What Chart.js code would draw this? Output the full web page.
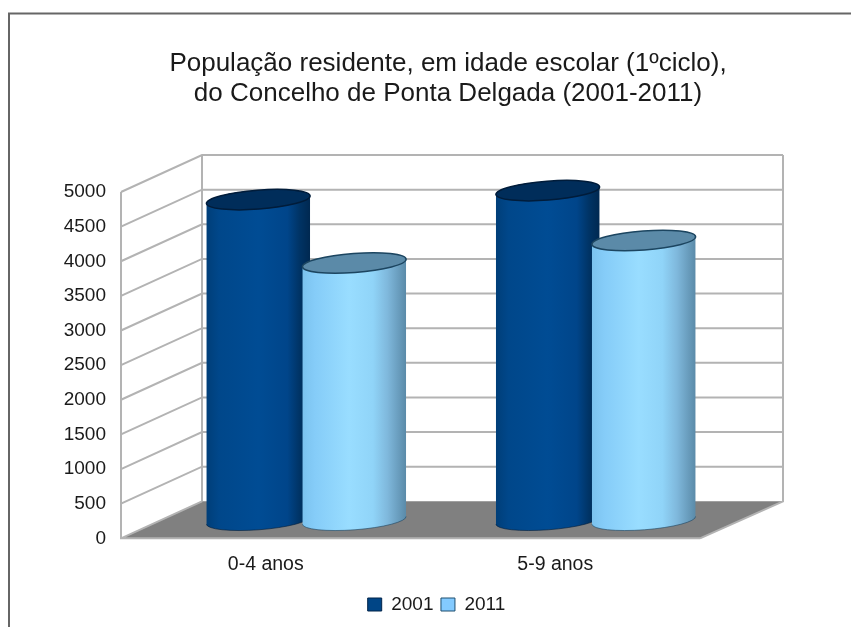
<!DOCTYPE html>
<html>
<head>
<meta charset="utf-8">
<title>População residente</title>
<script src="https://cdn.jsdelivr.net/npm/chart.js@4/dist/chart.umd.js"></script>
<style>
html, body { margin: 0; padding: 0; background: #fff; }
#wrap { width: 851px; height: 627px; }
</style>
</head>
<body>
<div id="wrap"><canvas id="grafico"></canvas></div>
<script>
const categorias = ['0-4 anos', '5-9 anos'];
const valores2001 = [4630, 4760];
const valores2011 = [3715, 4040];
const ticksY = [0, 500, 1000, 1500, 2000, 2500, 3000, 3500, 4000, 4500, 5000];
const titulo = ['População residente, em idade escolar (1ºciclo),', 'do Concelho de Ponta Delgada (2001-2011)'];

// profundidade do "3D"
const fundoX = 81, fundoY = 37;
const barraX = 40.5, barraY = 18;
const passo = 48, raioX = 52, raioY = 9.5, inclinacao = -0.075;

const bandas = [
    [[0, '#003e78'], [0.12, '#00478a'], [0.5, '#004c94'], [0.78, '#00458a'], [0.9, '#003364'], [1, '#002850']],
    [[0, '#7bc2ee'], [0.12, '#85ccf8'], [0.45, '#99ddff'], [0.68, '#90d4f8'], [0.82, '#7fb8dc'], [1, '#5a8aa8']]
];
const tampas = [['#002d5a', '#001c3a'], ['#5b8aa8', '#1c4560']];

// paredes, grelha e chao
const paredes = {
    id: 'paredes',
    afterLayout(chart) {
        // o titulo esta um pouco a direita da legenda
        chart.titleBlock.left += 23;
    },
    beforeDraw(chart) {
        const c = chart.ctx, a = chart.chartArea, y = chart.scales.y;
        c.save();
        // moldura: so topo e esquerda
        c.strokeStyle = '#666';
        c.lineWidth = 2;
        c.beginPath();
        c.moveTo(9, 627);
        c.lineTo(9, 13.5);
        c.lineTo(851, 13.5);
        c.stroke();

        c.fillStyle = '#808080';
        c.beginPath();
        c.moveTo(a.left, a.bottom);
        c.lineTo(a.left + fundoX, a.bottom - fundoY);
        c.lineTo(a.right + fundoX + 2, a.bottom - fundoY);
        c.lineTo(a.right, a.bottom);
        c.closePath();
        c.fill();

        c.strokeStyle = '#b3b3b3';
        c.beginPath();
        ticksY.forEach(function (v) {
            const py = y.getPixelForValue(v);
            if (v > 0) {
                c.moveTo(a.left, py);
                c.lineTo(a.left + fundoX, py - fundoY);
                c.lineTo(a.right + fundoX + 2, py - fundoY);
            }
        });
        c.moveTo(a.left, a.top);
        c.lineTo(a.left, a.bottom);
        c.lineTo(a.right, a.bottom);
        c.moveTo(a.left, a.bottom);
        c.lineTo(a.left + fundoX, a.bottom - fundoY);
        c.moveTo(a.left + fundoX, a.top - fundoY);
        c.lineTo(a.left + fundoX, a.bottom - fundoY);
        c.moveTo(a.right + fundoX + 2, a.top - fundoY);
        c.lineTo(a.right + fundoX + 2, a.bottom - fundoY);
        c.lineTo(a.right, a.bottom);
        c.stroke();
        c.restore();
    }
};

function contorno(c, el) {
    c.moveTo(el.cx - raioX * Math.cos(inclinacao), el.topo - raioX * Math.sin(inclinacao));
    c.ellipse(el.cx, el.topo, raioX, raioY, inclinacao, Math.PI, 0);
    c.ellipse(el.cx, el.fim, raioX, raioY, inclinacao, 0, Math.PI);
    c.closePath();
}

// cilindros: as barras da biblioteca sao recortadas e levam as tampas
const cilindros = {
    id: 'cilindros',
    afterDatasetsUpdate(chart) {
        const c = chart.ctx, x = chart.scales.x, y = chart.scales.y;
        chart.data.datasets.forEach(function (ds, d) {
            chart.getDatasetMeta(d).data.forEach(function (el, i) {
                el.cx = x.getPixelForValue(i) + barraX + (d === 0 ? -passo : passo);
                el.topo = y.getPixelForValue(ds.data[i]) - barraY;
                el.fim = y.getPixelForValue(0) - barraY;
                el.x = el.cx;
                el.width = raioX * 2;
                el.y = el.topo - raioY - 4;
                el.base = el.fim + raioY + 4;
                const g = c.createLinearGradient(el.cx - raioX, 0, el.cx + raioX, 0);
                bandas[d].forEach(function (b) { g.addColorStop(b[0], b[1]); });
                el.options = Object.assign({}, el.options, { backgroundColor: g });
            });
        });
    },
    beforeDatasetDraw(chart, args) {
        const c = chart.ctx;
        c.save();
        c.beginPath();
        args.meta.data.forEach(function (el) { contorno(c, el); });
        c.clip();
    },
    afterDatasetDraw(chart, args) {
        const c = chart.ctx, cor = tampas[args.index];
        c.restore();
        args.meta.data.forEach(function (el) {
            c.save();
            c.fillStyle = cor[0];
            c.strokeStyle = cor[1];
            c.lineWidth = 1.5;
            c.beginPath();
            c.ellipse(el.cx, el.topo, raioX, raioY, inclinacao, 0, Math.PI * 2);
            c.fill();
            c.stroke();
            c.lineWidth = 1;
            c.globalAlpha = 0.6;
            c.beginPath();
            c.ellipse(el.cx, el.fim, raioX, raioY, inclinacao, 0, Math.PI);
            c.stroke();
            c.restore();
        });
    }
};

new Chart(document.getElementById('grafico'), {
    type: 'bar',
    data: {
        labels: categorias,
        datasets: [
            { label: '2001', data: valores2001, order: 2, clip: false, backgroundColor: '#004586', borderColor: '#00244a', borderWidth: 1, borderSkipped: true },
            { label: '2011', data: valores2011, order: 1, clip: false, backgroundColor: '#83caff', borderColor: '#1f4e6e', borderWidth: 1, borderSkipped: true }
        ]
    },
    options: {
        responsive: true,
        maintainAspectRatio: false,
        animation: false,
        layout: { padding: { left: 22, right: 0, top: 0, bottom: 3 } },
        plugins: {
            title: {
                display: true,
                text: titulo,
                color: '#1a1a1a',
                align: 'center',
                font: { family: 'Liberation Sans', size: 26, weight: 'normal', lineHeight: 1.154 },
                padding: { top: 49, bottom: 83 }
            },
            legend: {
                position: 'bottom',
                labels: {
                    color: '#1a1a1a',
                    font: { family: 'Liberation Sans', size: 19 },
                    boxWidth: 14,
                    boxHeight: 13,
                    padding: 7.5,
                    sort: function (a, b) { return a.datasetIndex - b.datasetIndex; }
                }
            },
            tooltip: { enabled: false }
        },
        scales: {
            x: {
                afterFit: function (s) { s.height = 49.2; },
                grid: { display: false, drawTicks: false },
                border: { display: false },
                ticks: { color: '#1a1a1a', padding: 14.5, font: { family: 'Liberation Sans', size: 19.5 } }
            },
            y: {
                min: 0,
                max: 5000,
                afterFit: function (s) { s.width = 99; },
                afterBuildTicks: function (s) { s.ticks = ticksY.map(function (v) { return { value: v }; }); },
                grid: { display: false, drawTicks: false },
                border: { display: false },
                ticks: {
                    color: '#1a1a1a',
                    padding: 15,
                    font: { family: 'Liberation Sans', size: 19 },
                    callback: function (v) { return String(v); }
                }
            },
            // eixo vazio so para reservar a margem direita
            direita: {
                position: 'right',
                afterFit: function (s) { s.width = 151; },
                grid: { display: false, drawTicks: false },
                border: { display: false },
                ticks: { display: false }
            }
        }
    },
    plugins: [paredes, cilindros]
});
</script>
</body>
</html>
